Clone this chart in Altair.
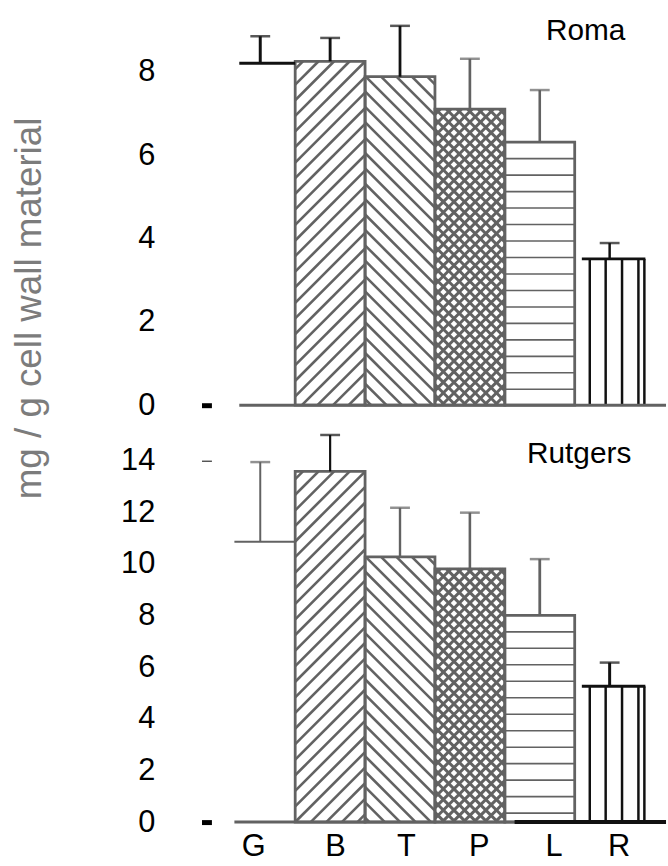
import altair as alt
import pandas as pd

# ---------------- data ----------------
categories = ["G", "B", "T", "P", "L", "R"]
panels = ["Roma", "Rutgers"]
roma_mean = [8.20, 8.25, 7.88, 7.10, 6.31, 3.51]
roma_sd = [0.65, 0.56, 1.22, 1.21, 1.25, 0.38]
rutgers_mean = [10.86, 13.59, 10.28, 9.81, 8.01, 5.26]
rutgers_sd = [3.09, 1.41, 1.90, 2.18, 2.18, 0.92]
roma_ticks = [0, 2, 4, 6, 8]
rutgers_ticks = [0, 2, 4, 6, 8, 10, 12, 14]

# ---------------- style ----------------
FONT = "Liberation Sans"
GREY = "#626262"
BLACK = "#111111"
PX_X = 70.4            # pixels per category step
W, H = 444, 405        # plot area of each panel
X_DOM = [-0.5, -0.5 + W / PX_X]
PX_Y = [42.0, 26.0]    # pixels per unit, top and bottom panel
LABEL_SHIFT = [-7, 5, 6, 9, 14, 9]

HATCH = {
    "B": [("diag", 1.0, 15.7)],
    "T": [("diag", -1.0, 15.5)],
    "P": [("diag", 1.0, 10.7), ("diag", -1.0, 10.7)],
    "L": [("horiz", 16.6)],
}
HATCH_W = {"B": 2.6, "T": 2.6, "P": 3.0, "L": 1.6}
R_LINES = [-20, -4, 12.5, 29, 35]
R_TOP = (-28, 36)


def hatch_rows(i, value, py, specs):
    x0 = i - 0.5
    w = PX_X
    h = value * py
    rows = []

    def add(xa, ya, xb, yb):
        rows.append({"x": x0 + xa / PX_X, "y": ya / py,
                     "x2": x0 + xb / PX_X, "y2": yb / py})

    for spec in specs:
        if spec[0] == "diag":
            s, dv = spec[1], spec[2]
            if s > 0:
                c, cmin = h - dv * 0.5, -s * w
            else:
                c, cmin = h - s * w - dv * 0.5, 0.0
            while c > cmin:
                if s > 0:
                    xa, xb = max(0.0, -c / s), min(w, (h - c) / s)
                else:
                    xa, xb = max(0.0, (h - c) / s), min(w, -c / s)
                if xb - xa > 0.5:
                    add(xa, c + s * xa, xb, c + s * xb)
                c -= dv
        elif spec[0] == "horiz":
            sp = spec[1]
            yy = h - sp
            while yy > 3:
                add(0, yy, w, yy)
                yy -= sp
    return rows


def panel(idx, means, sds, ticks, err_colors, err_widths, g_color, g_width,
          g_start, black_base_from, show_x, y_title):
    py = PX_Y[idx]
    ymax = H / py
    xs = alt.Scale(domain=X_DOM, nice=False, zero=False)
    ys = alt.Scale(domain=[0, ymax], nice=False, zero=False)

    df = pd.DataFrame({"cat": categories, "i": range(len(categories)),
                       "mean": means, "sd": sds})
    df["x0"] = df["i"] - 0.5
    df["x1"] = df["i"] + 0.5
    df["top"] = df["mean"] + df["sd"]

    hrows = []
    for c, m, i in zip(categories, means, range(len(categories))):
        if c in HATCH:
            for r in hatch_rows(i, m, py, HATCH[c]):
                r["cat"] = c
                hrows.append(r)
    hdf = pd.DataFrame(hrows)

    ri = categories.index("R")
    rm = means[ri]
    rdf = pd.DataFrame({"x": [ri + o / PX_X for o in R_LINES],
                        "y": [0] * len(R_LINES), "y2": [rm] * len(R_LINES)})

    gi = categories.index("G")
    gm = means[gi]

    if show_x:
        lab = "[" + ",".join("'%s'" % c for c in categories) + "][datum.value]"
        shift = "[" + ",".join(str(v) for v in LABEL_SHIFT) + "][datum.value]"
        xaxis = alt.Axis(values=list(range(len(categories))), labelExpr=lab,
                         domain=False, ticks=False, grid=False, title=None,
                         labelFontSize=31, labelFont=FONT, labelColor="#000",
                         labelPadding=10, labelOffset={"expr": shift})
    else:
        xaxis = None

    axis_kw = dict(
        values=ticks, domain=False, grid=False, offset=14,
        ticks=True, tickSize=10,
        tickColor={"expr": "datum.value == 0 ? '#000' : (datum.value == 14 ? '#555' : 'transparent')"},
        tickWidth={"expr": "datum.value == 0 ? 5 : 1.5"},
        labelFontSize=31, labelFont=FONT, labelColor="#000", labelPadding=47)
    if y_title:
        axis_kw.update(title=y_title, titleFont=FONT, titleFontSize=37, titleFontWeight="normal",
                       titleColor="#7c7c7c", titleAngle=270, titleBaseline="alphabetic",
                       titleAlign="center", titleX=-172, titleY=307)
    else:
        axis_kw.update(title=None)
    yaxis = alt.Axis(**axis_kw)

    def X(f):
        return alt.X(f, scale=xs, axis=xaxis)

    def Y(f):
        return alt.Y(f, scale=ys, axis=yaxis)

    layers = []
    for c in HATCH:
        sub = hdf[hdf["cat"] == c]
        if len(sub):
            layers.append(alt.Chart(sub).mark_rule(color=GREY, strokeWidth=HATCH_W[c]).encode(
                x=X("x:Q"), y=Y("y:Q"), x2="x2:Q", y2="y2:Q"))
    layers.append(alt.Chart(rdf).mark_rule(color=BLACK, strokeWidth=2.5).encode(
        x=X("x:Q"), y=Y("y:Q"), y2="y2:Q"))
    out = df[df["cat"].isin(list(HATCH.keys()))]
    layers.append(alt.Chart(out).mark_bar(fillOpacity=0, stroke=GREY, strokeWidth=2.8).encode(
        x=X("x0:Q"), x2="x1:Q", y=Y("mean:Q"), y2=alt.datum(0)))
    gdf = pd.DataFrame({"x": [g_start], "x2": [0.5], "y": [gm]})
    layers.append(alt.Chart(gdf).mark_rule(color=g_color, strokeWidth=g_width).encode(
        x=X("x:Q"), x2="x2:Q", y=Y("y:Q")))
    rtdf = pd.DataFrame({"x": [ri + R_TOP[0] / PX_X], "x2": [ri + R_TOP[1] / PX_X], "y": [rm]})
    layers.append(alt.Chart(rtdf).mark_rule(color=BLACK, strokeWidth=3).encode(
        x=X("x:Q"), x2="x2:Q", y=Y("y:Q")))
    bdf = pd.DataFrame({"x": [g_start], "x2": [X_DOM[1]], "y": [0.0]})
    layers.append(alt.Chart(bdf).mark_rule(color=GREY, strokeWidth=3).encode(
        x=X("x:Q"), x2="x2:Q", y=Y("y:Q")))
    if black_base_from is not None:
        bb = pd.DataFrame({"x": [black_base_from], "x2": [X_DOM[1]], "y": [0.0]})
        layers.append(alt.Chart(bb).mark_rule(color=BLACK, strokeWidth=4).encode(
            x=X("x:Q"), x2="x2:Q", y=Y("y:Q")))
    ccol = alt.Color("cat:N", scale=alt.Scale(domain=categories, range=err_colors), legend=None)
    cwid = alt.StrokeWidth("cat:N", scale=alt.Scale(domain=categories, range=err_widths), legend=None)
    layers.append(alt.Chart(df).mark_rule().encode(
        x=X("i:Q"), y=Y("mean:Q"), y2="top:Q", color=ccol, strokeWidth=cwid))
    layers.append(alt.Chart(df).mark_tick(orient="horizontal", size=20, thickness=2.5).encode(
        x=X("i:Q"), y=Y("top:Q"), color=ccol))
    tdf = pd.DataFrame({"t": [panels[idx]]})
    ty = 37 if idx == 0 else 43
    tx = 403 if idx == 0 else 409
    layers.append(alt.Chart(tdf).mark_text(align="right", baseline="alphabetic", font=FONT,
                                            fontSize=30, color="#000").encode(
        text="t:N", x=alt.value(tx), y=alt.value(ty)))

    return alt.layer(*layers).properties(width=W, height=H)


top = panel(0, roma_mean, roma_sd, roma_ticks,
            [BLACK, BLACK, BLACK, GREY, GREY, BLACK], [3, 2.5, 3, 2, 2, 2.5],
            BLACK, 3, -0.3, None, False, "mg / g cell wall material")
bottom = panel(1, rutgers_mean, rutgers_sd, rutgers_ticks,
               [GREY, BLACK, GREY, GREY, GREY, BLACK], [2, 3, 2, 2, 2, 3],
               GREY, 2, -0.37, 3.64, True, None)

chart = alt.vconcat(top, bottom, spacing=15, bounds="flush").resolve_scale(
    color="independent", strokeWidth="independent"
).properties(
    padding={"left": 11, "top": 0, "right": 0, "bottom": 0},
    background="white",
).configure_view(stroke=None)

chart.save("out.html", embed_options={"renderer": "svg", "actions": False})
